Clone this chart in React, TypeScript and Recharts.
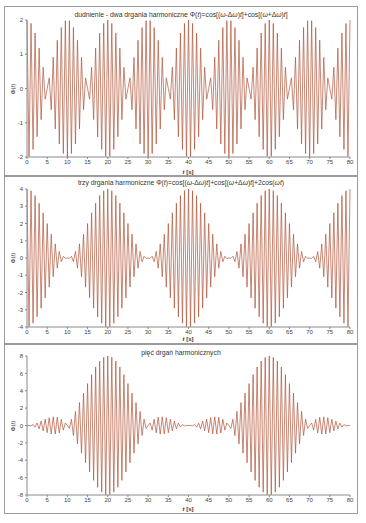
import React from "react";
import { LineChart, Line, XAxis, YAxis } from "recharts";

// time axis [s], sampled every half second (carrier extrema)
const time = [
  0, 0.5, 1, 1.5, 2, 2.5, 3, 3.5, 4, 4.5, 5, 5.5, 6, 6.5, 7, 7.5, 8, 8.5, 9, 9.5,
  10, 10.5, 11, 11.5, 12, 12.5, 13, 13.5, 14, 14.5, 15, 15.5, 16, 16.5, 17, 17.5, 18, 18.5, 19, 19.5,
  20, 20.5, 21, 21.5, 22, 22.5, 23, 23.5, 24, 24.5, 25, 25.5, 26, 26.5, 27, 27.5, 28, 28.5, 29, 29.5,
  30, 30.5, 31, 31.5, 32, 32.5, 33, 33.5, 34, 34.5, 35, 35.5, 36, 36.5, 37, 37.5, 38, 38.5, 39, 39.5,
  40, 40.5, 41, 41.5, 42, 42.5, 43, 43.5, 44, 44.5, 45, 45.5, 46, 46.5, 47, 47.5, 48, 48.5, 49, 49.5,
  50, 50.5, 51, 51.5, 52, 52.5, 53, 53.5, 54, 54.5, 55, 55.5, 56, 56.5, 57, 57.5, 58, 58.5, 59, 59.5,
  60, 60.5, 61, 61.5, 62, 62.5, 63, 63.5, 64, 64.5, 65, 65.5, 66, 66.5, 67, 67.5, 68, 68.5, 69, 69.5,
  70, 70.5, 71, 71.5, 72, 72.5, 73, 73.5, 74, 74.5, 75, 75.5, 76, 76.5, 77, 77.5, 78, 78.5, 79, 79.5,
  80,
];

// dudnienie - dwa drgania
const dwa = [
  2, -1.98, 1.9, -1.78, 1.62, -1.41, 1.18, -0.91, 0.62, -0.31, 0, 0.31, -0.62, 0.91, -1.18, 1.41, -1.62, 1.78, -1.9, 1.98,
  -2, 1.98, -1.9, 1.78, -1.62, 1.41, -1.18, 0.91, -0.62, 0.31, 0, -0.31, 0.62, -0.91, 1.18, -1.41, 1.62, -1.78, 1.9, -1.98,
  2, -1.98, 1.9, -1.78, 1.62, -1.41, 1.18, -0.91, 0.62, -0.31, 0, 0.31, -0.62, 0.91, -1.18, 1.41, -1.62, 1.78, -1.9, 1.98,
  -2, 1.98, -1.9, 1.78, -1.62, 1.41, -1.18, 0.91, -0.62, 0.31, 0, -0.31, 0.62, -0.91, 1.18, -1.41, 1.62, -1.78, 1.9, -1.98,
  2, -1.98, 1.9, -1.78, 1.62, -1.41, 1.18, -0.91, 0.62, -0.31, 0, 0.31, -0.62, 0.91, -1.18, 1.41, -1.62, 1.78, -1.9, 1.98,
  -2, 1.98, -1.9, 1.78, -1.62, 1.41, -1.18, 0.91, -0.62, 0.31, 0, -0.31, 0.62, -0.91, 1.18, -1.41, 1.62, -1.78, 1.9, -1.98,
  2, -1.98, 1.9, -1.78, 1.62, -1.41, 1.18, -0.91, 0.62, -0.31, 0, 0.31, -0.62, 0.91, -1.18, 1.41, -1.62, 1.78, -1.9, 1.98,
  -2, 1.98, -1.9, 1.78, -1.62, 1.41, -1.18, 0.91, -0.62, 0.31, 0, -0.31, 0.62, -0.91, 1.18, -1.41, 1.62, -1.78, 1.9, -1.98,
  2,
];

// trzy drgania
const trzy = [
  4, -3.98, 3.9, -3.78, 3.62, -3.41, 3.18, -2.91, 2.62, -2.31, 2, -1.69, 1.38, -1.09, 0.82, -0.59, 0.38, -0.22, 0.1, -0.02,
  0, -0.02, 0.1, -0.22, 0.38, -0.59, 0.82, -1.09, 1.38, -1.69, 2, -2.31, 2.62, -2.91, 3.18, -3.41, 3.62, -3.78, 3.9, -3.98,
  4, -3.98, 3.9, -3.78, 3.62, -3.41, 3.18, -2.91, 2.62, -2.31, 2, -1.69, 1.38, -1.09, 0.82, -0.59, 0.38, -0.22, 0.1, -0.02,
  0, -0.02, 0.1, -0.22, 0.38, -0.59, 0.82, -1.09, 1.38, -1.69, 2, -2.31, 2.62, -2.91, 3.18, -3.41, 3.62, -3.78, 3.9, -3.98,
  4, -3.98, 3.9, -3.78, 3.62, -3.41, 3.18, -2.91, 2.62, -2.31, 2, -1.69, 1.38, -1.09, 0.82, -0.59, 0.38, -0.22, 0.1, -0.02,
  0, -0.02, 0.1, -0.22, 0.38, -0.59, 0.82, -1.09, 1.38, -1.69, 2, -2.31, 2.62, -2.91, 3.18, -3.41, 3.62, -3.78, 3.9, -3.98,
  4, -3.98, 3.9, -3.78, 3.62, -3.41, 3.18, -2.91, 2.62, -2.31, 2, -1.69, 1.38, -1.09, 0.82, -0.59, 0.38, -0.22, 0.1, -0.02,
  0, -0.02, 0.1, -0.22, 0.38, -0.59, 0.82, -1.09, 1.38, -1.69, 2, -2.31, 2.62, -2.91, 3.18, -3.41, 3.62, -3.78, 3.9, -3.98,
  4,
];

// pięć drgań
const piec = [
  0, 0.01, -0.05, 0.11, -0.19, 0.28, -0.39, 0.5, -0.62, 0.73, -0.83, 0.91, -0.97, 1, -0.99, 0.95, -0.85, 0.72, -0.53, 0.29,
  0, -0.34, 0.72, -1.15, 1.62, -2.12, 2.64, -3.18, 3.73, -4.29, 4.83, -5.35, 5.85, -6.32, 6.74, -7.11, 7.42, -7.67, 7.85, -7.96,
  8, -7.96, 7.85, -7.67, 7.42, -7.11, 6.74, -6.32, 5.85, -5.35, 4.83, -4.29, 3.73, -3.18, 2.64, -2.12, 1.62, -1.15, 0.72, -0.34,
  0, 0.29, -0.53, 0.72, -0.85, 0.95, -0.99, 1, -0.97, 0.91, -0.83, 0.73, -0.62, 0.5, -0.39, 0.28, -0.19, 0.11, -0.05, 0.01,
  0, 0.01, -0.05, 0.11, -0.19, 0.28, -0.39, 0.5, -0.62, 0.73, -0.83, 0.91, -0.97, 1, -0.99, 0.95, -0.85, 0.72, -0.53, 0.29,
  0, -0.34, 0.72, -1.15, 1.62, -2.12, 2.64, -3.18, 3.73, -4.29, 4.83, -5.35, 5.85, -6.32, 6.74, -7.11, 7.42, -7.67, 7.85, -7.96,
  8, -7.96, 7.85, -7.67, 7.42, -7.11, 6.74, -6.32, 5.85, -5.35, 4.83, -4.29, 3.73, -3.18, 2.64, -2.12, 1.62, -1.15, 0.72, -0.34,
  0, 0.29, -0.53, 0.72, -0.85, 0.95, -0.99, 1, -0.97, 0.91, -0.83, 0.73, -0.62, 0.5, -0.39, 0.28, -0.19, 0.11, -0.05, 0.01,
  0,
];

const xTicks = [0, 5, 10, 15, 20, 25, 30, 35, 40, 45, 50, 55, 60, 65, 70, 75, 80];
const yTicks1 = [-2, -1, 0, 1, 2];
const yTicks2 = [-4, -3, -2, -1, 0, 1, 2, 3, 4];
const yTicks3 = [-8, -6, -4, -2, 0, 2, 4, 6, 8];

const rows = time.map((t, i) => ({ t, dwa: dwa[i], trzy: trzy[i], piec: piec[i] }));

const FONT = "'Liberation Sans', Arial, sans-serif";
const LINE = "#b0553a";
const AXIS = "#8a8a8a";

const W = 5; // italic helper
const I = ({ children }: { children: React.ReactNode }) => <i>{children}</i>;

type PanelProps = {
  top: number;
  height: number;
  dataKey: string;
  yTicks: number[];
  marginTop: number;
  xHeight: number;
  titleTop: number;
  xLabelTop: number;
  title: React.ReactNode;
};

function Panel(p: PanelProps) {
  const innerH = p.height - 2;
  const plotTop = p.marginTop;
  const plotH = innerH - p.marginTop - p.xHeight;
  const lo = p.yTicks[0];
  const hi = p.yTicks[p.yTicks.length - 1];
  return (
    <div
      style={{
        position: "absolute",
        left: 4,
        top: p.top,
        width: 354,
        height: p.height,
        boxSizing: "border-box",
        border: "1px solid #9c9c9c",
        background: "#fff",
        fontFamily: FONT,
      }}
    >
      <LineChart
        width={352}
        height={innerH}
        data={rows}
        margin={{ top: p.marginTop, right: 7, bottom: 0, left: 0 }}
      >
        <XAxis
          dataKey="t"
          type="number"
          domain={[0, 80]}
          ticks={xTicks}
          interval={0}
          height={p.xHeight}
          tickSize={2}
          tickMargin={1}
          stroke={AXIS}
          tick={{ fontSize: 6, fill: "#444", fontFamily: FONT }}
        />
        <YAxis
          type="number"
          domain={[lo, hi]}
          ticks={p.yTicks}
          interval={0}
          width={22}
          tickSize={2}
          tickMargin={2}
          stroke={AXIS}
          tick={{ fontSize: 6, fill: "#444", fontFamily: FONT }}
        />
        <Line
          type="linear"
          dataKey={p.dataKey}
          stroke={LINE}
          strokeWidth={0.7}
          dot={false}
          isAnimationActive={false}
        />
      </LineChart>
      <div
        style={{
          position: "absolute",
          left: 0,
          width: 352,
          top: p.titleTop,
          textAlign: "center",
          fontSize: 6.8,
          lineHeight: "8px",
          color: "#333",
          whiteSpace: "nowrap",
        }}
      >
        {p.title}
      </div>
      <div
        style={{
          position: "absolute",
          left: 183,
          top: p.xLabelTop,
          transform: "translateX(-50%)",
          fontSize: 6,
          lineHeight: "8px",
          fontWeight: 700,
          color: "#333",
          whiteSpace: "nowrap",
        }}
      >
        <I>t</I> [s]
      </div>
      <div
        style={{
          position: "absolute",
          left: 8,
          top: plotTop + plotH / 2,
          transform: "translate(-50%, -50%) rotate(-90deg)",
          fontSize: 6,
          lineHeight: "8px",
          color: "#333",
          whiteSpace: "nowrap",
        }}
      >
        Φ(<I>t</I>)
      </div>
    </div>
  );
}

export default function App() {
  void W;
  return (
    <div style={{ position: "absolute", left: 0, top: 0, width: 366, height: 523, background: "#fff" }}>
      <Panel
        top={6}
        height={170}
        dataKey="dwa"
        yTicks={yTicks1}
        marginTop={13}
        xHeight={18}
        titleTop={4}
        xLabelTop={161}
        title={
          <>
            dudnienie - dwa drgania harmoniczne Φ(<I>t</I>)=cos[(<I>ω</I>-Δ<I>ω</I>)<I>t</I>]+cos[(<I>ω</I>+Δ<I>ω</I>)<I>t</I>]
          </>
        }
      />
      <Panel
        top={176}
        height={168}
        dataKey="trzy"
        yTicks={yTicks2}
        marginTop={12}
        xHeight={16}
        titleTop={2}
        xLabelTop={158}
        title={
          <>
            trzy drgania harmoniczne Φ(<I>t</I>)=cos[(<I>ω</I>-Δ<I>ω</I>)<I>t</I>]+cos[(<I>ω</I>+Δ<I>ω</I>)<I>t</I>]+2cos(<I>ω</I><I>t</I>)
          </>
        }
      />
      <Panel
        top={344}
        height={170}
        dataKey="piec"
        yTicks={yTicks3}
        marginTop={11}
        xHeight={18}
        titleTop={4}
        xLabelTop={160}
        title={<>pięć drgań harmonicznych</>}
      />
    </div>
  );
}
